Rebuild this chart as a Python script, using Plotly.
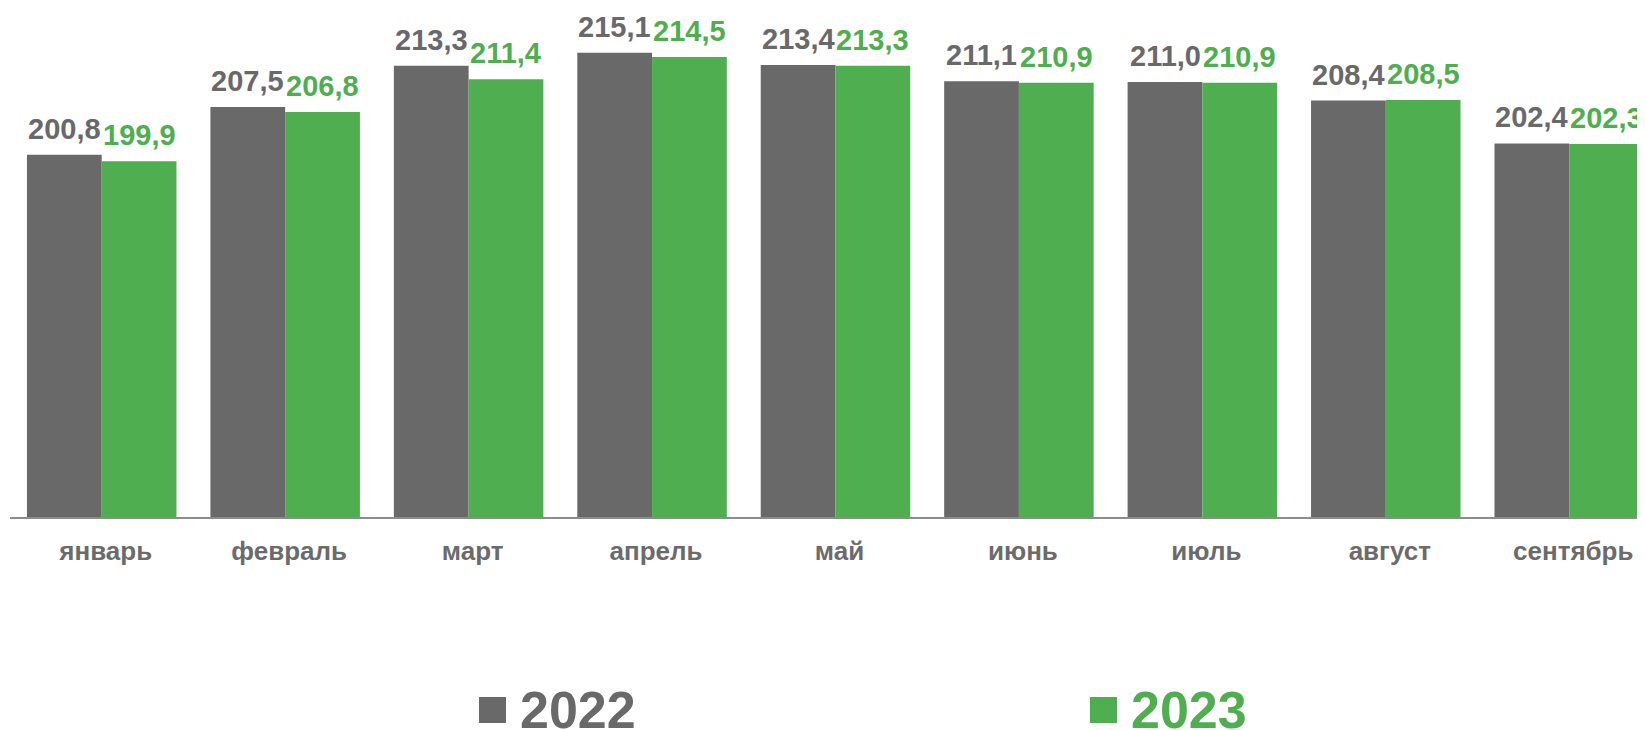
import plotly.graph_objects as go

months = ["январь", "февраль", "март", "апрель", "май", "июнь", "июль", "август", "сентябрь"]
values_2022 = [200.8, 207.5, 213.3, 215.1, 213.4, 211.1, 211.0, 208.4, 202.4]
values_2023 = [199.9, 206.8, 211.4, 214.5, 213.3, 210.9, 210.9, 208.5, 202.3]
series_names = ["2022", "2023"]

GREY = "#696969"
GREEN = "#4EAE50"
FONT = "Liberation Sans, Arial, sans-serif"

# page body has an 8px margin: figure coords = reference coords - 8
OFF = 8
W, H = 1645 - OFF, 730 - OFF
ML, MR, MT, MB = 10 - OFF, 0, 10 - OFF, 213
PW = W - ML - MR
PH = H - MT - MB
BAR_PX = 74.7

fig = go.Figure()
for name, vals, col in [(series_names[0], values_2022, GREY), (series_names[1], values_2023, GREEN)]:
    fig.add_trace(go.Bar(
        x=months, y=vals, name=name,
        marker=dict(color=col, line=dict(width=0)),
        cliponaxis=True, showlegend=False,
    ))

annotations = []
for vals, col, sgn in [(values_2022, GREY, -1), (values_2023, GREEN, 1)]:
    for m, v in zip(months, vals):
        annotations.append(dict(
            x=m, y=v, xref="x", yref="y", text=f"{v:.1f}".replace(".", ","),
            xanchor="center", yanchor="bottom", xshift=sgn * BAR_PX / 2, yshift=8,
            showarrow=False,
            font=dict(family=FONT, size=29, color=col, weight="bold"),
        ))

def px2paper(x, y):
    # reference pixel coords -> paper coords
    x -= OFF
    y -= OFF
    return (x - ML) / PW, (H - MB - y) / PH

shapes = []
for name, col, sx in [(series_names[0], GREY, 479), (series_names[1], GREEN, 1090)]:
    x0, y0 = px2paper(sx, 723)
    x1, y1 = px2paper(sx + 27, 697)
    shapes.append(dict(type="rect", xref="paper", yref="paper", x0=x0, x1=x1, y0=y0, y1=y1,
                       fillcolor=col, line=dict(width=0)))
    tx, ty = px2paper(sx + 39, 710)
    annotations.append(dict(text=name, xref="paper", yref="paper", x=tx, y=ty,
                            xanchor="left", yanchor="middle", showarrow=False,
                            font=dict(family=FONT, size=52, color=col, weight="bold")))

fig.update_layout(
    width=W, height=H,
    margin=dict(l=ML, r=MR, t=MT, b=MB, pad=0),
    paper_bgcolor="white", plot_bgcolor="white",
    barmode="group", bargap=0.185, bargroupgap=0,
    shapes=shapes, annotations=annotations,
    showlegend=False,
    font=dict(family=FONT),
)
fig.update_xaxes(
    range=[-0.5, 8.413], showgrid=False, showline=True, linecolor="#8c8c8c", linewidth=1.5,
    ticks="", ticklabelstandoff=10, ticklabelshift=4,
    tickfont=dict(family=FONT, size=26, color="#6b6b6b", weight="bold"),
)
fig.update_yaxes(range=[150, 150 + PH / 7.13], visible=False, showgrid=False, zeroline=False)

fig.write_html("out.html")
